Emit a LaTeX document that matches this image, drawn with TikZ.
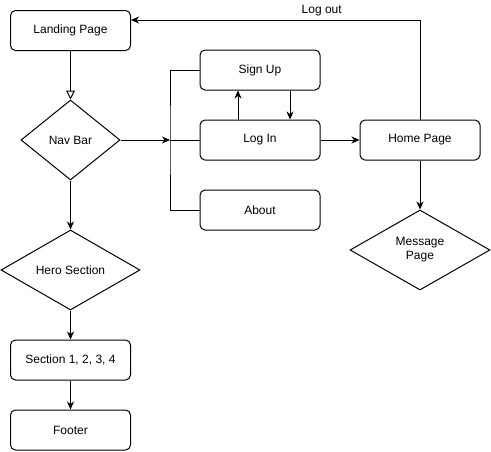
\documentclass[tikz,border=0pt]{standalone}
\usepackage{fontspec}
\setmainfont{Liberation Sans}
\usetikzlibrary{shapes.geometric,arrows.meta}
\begin{document}
\begin{tikzpicture}[x=1pt,y=-1pt,line width=1pt,
  font=\fontsize{12pt}{14pt}\selectfont,
  box/.style={draw,rounded corners=5pt,minimum width=120pt,minimum height=40pt,inner sep=0pt,align=center},
  dia/.style={draw,diamond,inner sep=0pt,align=center},
  arr/.style={-{Stealth[length=8pt,width=7pt,inset=2.5pt]}},
  line/.style={-}]
\useasboundingbox (0,0) rectangle (491,451);
\node[box] (landing) at (70.5,30.5) {Landing Page};
\node[dia,minimum width=99pt,minimum height=80pt] (nav) at (70.5,140) {Nav Bar};
\node[dia,minimum width=139pt,minimum height=80pt] (hero) at (70.5,270) {Hero Section};
\node[box] (sec) at (70.5,360) {Section 1, 2, 3, 4};
\node[box] (footer) at (70.5,430) {Footer};
\node[box] (signup) at (260,70) {Sign Up};
\node[box] (login) at (260,140) {Log In};
\node[box] (about) at (260,210) {About};
\node[box] (home) at (420,140) {Home Page};
\node[dia,minimum width=140pt,minimum height=80pt] (msg) at (420,250) {Message\\Page};
\coordinate (j) at (170,140);
\draw[-{Triangle[open,length=9pt,width=9pt]}] (landing) -- (nav);
\draw[arr] (nav) -- (hero);
\draw[arr] (hero) -- (sec);
\draw[arr] (sec) -- (footer);
\draw[arr] (nav.east) -- (j);
\draw (j) -- (login.west);
\draw (signup.west) -| (j) |- (about.west);
\draw[arr] ([xshift=-22pt]login.north) -- ([xshift=-22pt]signup.south);
\draw[arr] ([xshift=30pt]signup.south) -- ([xshift=30pt]login.north);
\draw[arr] (login) -- (home);
\draw[arr] (home) -- (msg);
\draw[arr] (home.north) |- node[pos=0.67,above=0pt] {Log out} (landing.east |- 0,20);
\end{tikzpicture}
\end{document}
